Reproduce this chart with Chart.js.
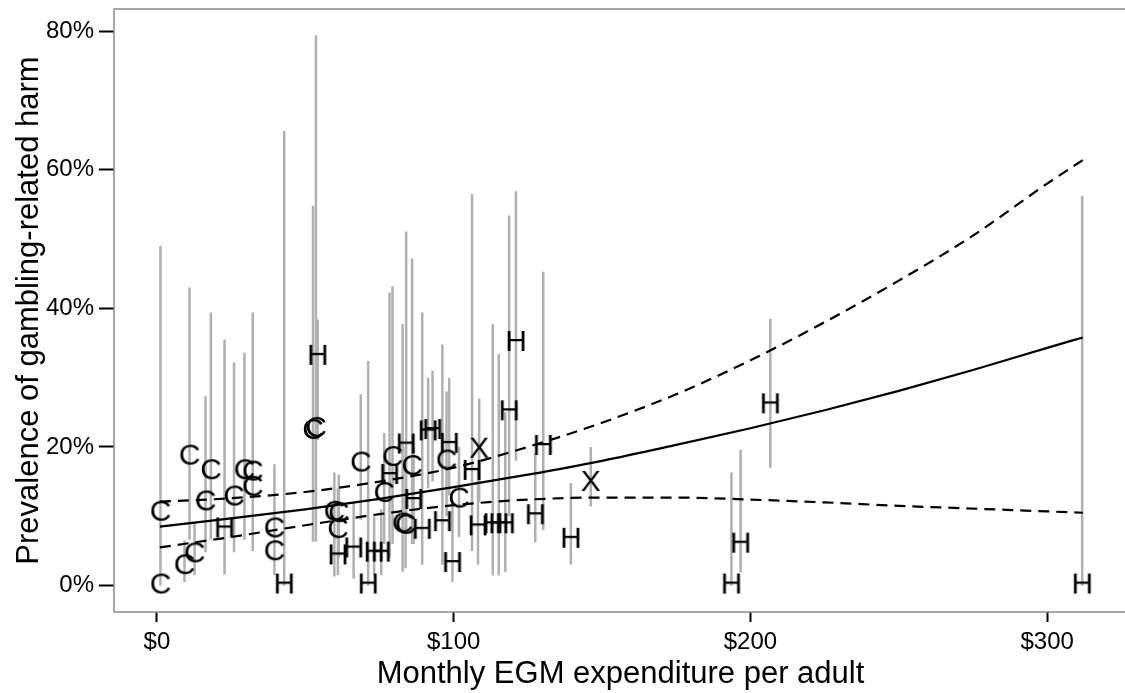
<!DOCTYPE html>
<html>
<head>
<meta charset="utf-8">
<script src="https://cdn.jsdelivr.net/npm/chart.js@4.4.0/dist/chart.umd.min.js"></script>
<style>
  html, body { margin: 0; padding: 0; background: #fff; overflow: hidden; }
  #wrap { width: 1132px; height: 693px; }
</style>
</head>
<body>
<div id="wrap"><canvas id="myChart" width="1132" height="693"></canvas></div>
<script>
// monthly EGM spend per adult ($), prevalence (%), sample type, 95% CI
let spend = [1.2, 1.2, 9.3, 11.0, 12.7, 16.4, 18.2, 22.8, 26.0, 29.5, 32.3, 32.3, 39.6, 39.6, 42.9,
  52.6, 53.6, 54.2, 59.8, 61.3, 61.0, 61.0, 66.3, 68.7, 71.2, 73.2, 75.6, 76.6, 78.4, 79.4,
  84.0, 82.8, 83.8, 86.0, 86.5, 89.4, 91.4, 92.9, 96.2, 97.6, 98.5, 99.6, 101.8, 106.2, 108.6,
  108.2, 113.2, 115.2, 117.4, 118.7, 121.0, 127.5, 130.2, 139.5, 146.2, 193.6, 196.7, 206.7, 311.8];
let prev = [10.5, 0, 2.8, 18.6, 4.5, 12.0, 16.5, 8.1, 12.7, 16.5, 16.3, 14.1, 8.1, 4.8, 0,
  22.3, 22.6, 33.0, 10.5, 10.3, 8.0, 4.2, 5.2, 17.6, 0, 4.6, 4.6, 13.2, 15.8, 18.4,
  20.2, 8.8, 8.6, 17.1, 12.2, 7.9, 22.1, 22.3, 9.0, 17.9, 20.3, 3.1, 12.4, 16.4, 19.6,
  8.4, 8.7, 8.7, 8.7, 25.0, 35.0, 10.0, 20.0, 6.6, 14.8, 0, 5.9, 26.0, 0];
let kind = ['C', 'C', 'C', 'C', 'C', 'C', 'C', 'H', 'C', 'C', 'C', 'C', 'C', 'C', 'H',
  'C', 'C', 'H', 'C', 'C', 'C', 'H', 'H', 'C', 'H', 'H', 'H', 'C', 'H', 'C',
  'H', 'C', 'C', 'C', 'H', 'H', 'H', 'H', 'H', 'C', 'H', 'H', 'C', 'H', 'X',
  'H', 'H', 'H', 'H', 'H', 'H', 'H', 'H', 'H', 'X', 'H', 'H', 'H', 'H'];
let ciLow = [1.5, 0, 0.5, 6.6, 1.5, 4.8, 6.6, 1.6, 4.8, 6.6, 6.2, 5.0, 3.0, 1.5, 0,
  6.3, 6.3, 21.0, 1.3, 4.0, 3.0, 1.5, 1.0, 9.5, 0, 1.5, 1.5, 6.0, 4.0, 6.0,
  8.0, 2.0, 2.5, 6.0, 6.0, 3.0, 14.0, 15.0, 3.0, 10.0, 13.0, 0.5, 7.0, 5.0, 12.0,
  3.0, 1.5, 1.5, 2.0, 10.0, 18.0, 6.2, 8.0, 3.0, 11.4, 0, 1.9, 17.0, 0];
let ciHigh = [49.0, 20.0, 6.5, 43.0, 9.0, 27.3, 39.4, 35.5, 32.2, 33.6, 39.4, 28.6, 17.5, 10.0, 65.6,
  54.8, 79.4, 38.4, 16.3, 16.0, 14.0, 8.0, 12.0, 27.6, 32.4, 10.0, 11.0, 22.0, 42.3, 43.2,
  51.1, 37.7, 20.0, 47.2, 20.0, 39.4, 30.0, 31.0, 34.8, 28.0, 30.0, 12.0, 20.0, 56.5, 27.0,
  17.0, 37.7, 33.4, 25.0, 53.4, 56.9, 19.0, 45.3, 14.8, 20.0, 16.3, 19.6, 38.5, 56.2];

// fitted curve and confidence band
let fitX = [1, 25, 50, 75, 100, 125, 150, 175, 200, 225, 250, 275, 300, 312];
let fitMid = [8.5, 9.7, 11.0, 12.5, 14.2, 16.0, 18.0, 20.3, 22.7, 25.3, 28.1, 31.1, 34.3, 35.8];
let fitHigh = [12.1, 12.6, 13.5, 15.0, 17.0, 20.0, 23.5, 27.6, 32.5, 38.0, 44.0, 50.5, 58.0, 61.4];
let fitLow = [5.5, 7.0, 8.7, 10.3, 11.6, 12.4, 12.7, 12.7, 12.4, 12.0, 11.5, 11.1, 10.7, 10.5];

let xTicks = [0, 100, 200, 300];
let yTicks = [0, 20, 40, 60, 80];

const FONT = '"Liberation Sans", Arial, sans-serif';

function letterIcon(ch) {
  let c = document.createElement('canvas');
  c.width = 40;
  c.height = 40;
  let g = c.getContext('2d');
  g.font = '30px ' + FONT;
  g.fillStyle = '#000';
  g.textAlign = 'center';
  g.textBaseline = 'middle';
  g.fillText(ch, 20, 20);
  return c;
}

function pointsOf(k) {
  let out = [];
  spend.forEach((s, i) => { if (kind[i] === k) out.push({ x: s, y: prev[i] }); });
  return out;
}

let bars = [];
spend.forEach((s, i) => {
  bars.push({ x: s, y: ciLow[i] }, { x: s, y: ciHigh[i] }, { x: s, y: null });
});

function curve(ys) {
  return fitX.map((x, i) => ({ x: x, y: ys[i] }));
}

// grey box round the plot; its right side falls outside the picture
let framePlugin = {
  id: 'frame',
  beforeDatasetsDraw(chart) {
    let { ctx, chartArea: a } = chart;
    ctx.save();
    ctx.strokeStyle = '#8c8c8c';
    ctx.lineWidth = 1.5;
    ctx.beginPath();
    ctx.moveTo(chart.width, a.top);
    ctx.lineTo(a.left, a.top);
    ctx.lineTo(a.left, a.bottom);
    ctx.lineTo(chart.width, a.bottom);
    ctx.stroke();
    ctx.restore();
  }
};

let ctx = document.getElementById('myChart').getContext('2d');

let lineStyle = { showLine: true, pointRadius: 0, borderColor: '#000', borderWidth: 2.2, fill: false, cubicInterpolationMode: 'monotone' };

let myChart = new Chart(ctx, {
  type: 'scatter',
  data: {
    datasets: [
      { label: 'C', data: pointsOf('C'), pointStyle: letterIcon('C'), order: 0 },
      { label: 'H', data: pointsOf('H'), pointStyle: letterIcon('H'), order: 0 },
      { label: 'X', data: pointsOf('X'), pointStyle: letterIcon('X'), order: 0 },
      Object.assign({ label: 'fit', data: curve(fitMid), order: 1 }, lineStyle),
      Object.assign({ label: 'upper', data: curve(fitHigh), borderDash: [11, 7], order: 1 }, lineStyle),
      Object.assign({ label: 'lower', data: curve(fitLow), borderDash: [11, 7], order: 1 }, lineStyle),
      {
        label: 'ci',
        data: bars,
        showLine: true,
        spanGaps: false,
        pointRadius: 0,
        borderColor: '#b0b0b0',
        borderWidth: 2.5,
        order: 2
      }
    ]
  },
  options: {
    responsive: false,
    animation: false,
    layout: { padding: { top: 9, right: 0, bottom: 0, left: 0 } },
    plugins: {
      legend: { display: false },
      tooltip: { enabled: false }
    },
    scales: {
      x: {
        type: 'linear',
        min: -14.45,
        max: 326.9,
        afterFit: (scale) => {
          scale.height = 81;
          scale.paddingLeft = 0;
          scale.paddingRight = 0;
        },
        afterBuildTicks: (scale) => { scale.ticks = xTicks.map(v => ({ value: v })); },
        grid: { drawOnChartArea: false, drawTicks: true, tickLength: 10, tickColor: '#000', tickWidth: 2 },
        border: { display: false },
        ticks: {
          color: '#000',
          padding: 6,
          font: { family: FONT, size: 24 },
          callback: (v) => '$' + v
        },
        title: {
          display: true,
          text: 'Monthly EGM expenditure per adult',
          color: '#000',
          font: { family: FONT, size: 31 },
          padding: { top: 0, bottom: 0 }
        }
      },
      y: {
        type: 'linear',
        min: -3.82,
        max: 83.2,
        afterFit: (scale) => {
          scale.width = 114;
          scale.paddingTop = 0;
          scale.paddingBottom = 0;
        },
        afterBuildTicks: (scale) => { scale.ticks = yTicks.map(v => ({ value: v })); },
        grid: { drawOnChartArea: false, drawTicks: true, tickLength: 15, tickColor: '#000', tickWidth: 2 },
        border: { display: false },
        ticks: {
          color: '#000',
          padding: 5,
          font: { family: FONT, size: 24 },
          callback: (v) => v + '%'
        },
        title: {
          display: true,
          text: 'Prevalence of gambling-related harm',
          color: '#000',
          font: { family: FONT, size: 31 },
          padding: { top: 11, bottom: 0 }
        }
      }
    }
  },
  plugins: [framePlugin]
});
</script>
</body>
</html>
